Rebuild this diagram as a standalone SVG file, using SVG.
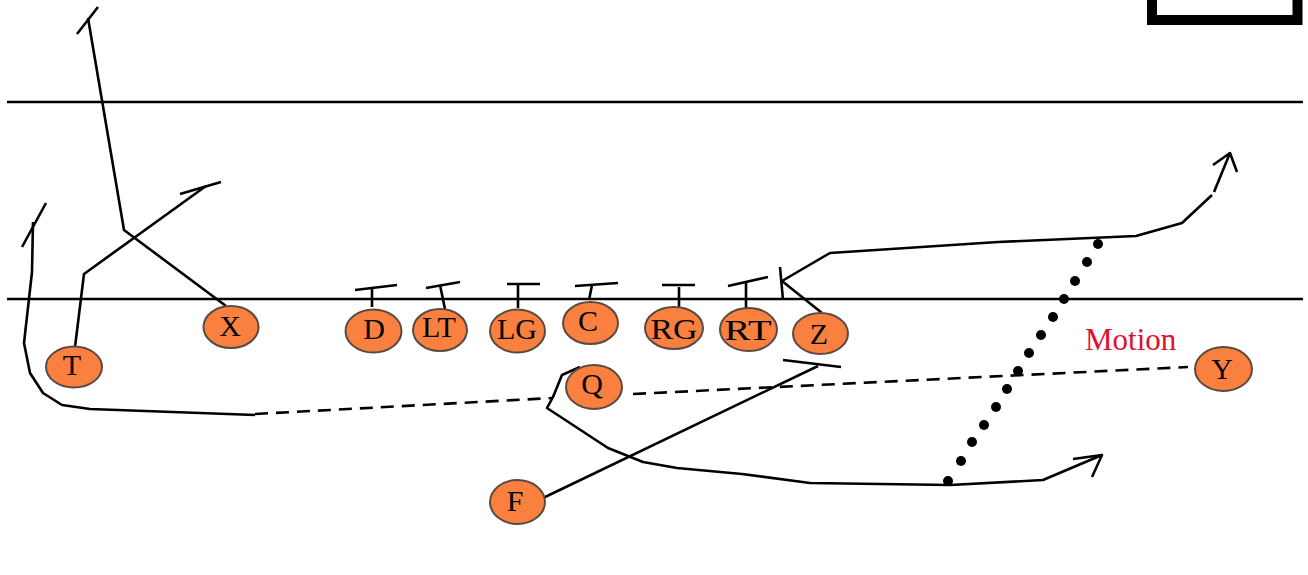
<svg xmlns="http://www.w3.org/2000/svg" width="1308" height="575" viewBox="0 0 1308 575">
<style>
.ln{fill:none;stroke:#000;stroke-width:2.6;stroke-linecap:butt;stroke-linejoin:round}
.dash{stroke-dasharray:13 8}
.node ellipse{fill:#F9803F;stroke:#5a4a42;stroke-width:2}
.node text{font-family:"Liberation Serif","Times New Roman",serif;font-size:30px;fill:#000;text-anchor:middle}
.dot{fill:#000}
.lbl{font-family:"Liberation Serif","Times New Roman",serif;font-size:31px;fill:#E0102F}
</style>
<rect width="1308" height="575" fill="#fff"/>
<g id="field">
<line class="ln" x1="7" y1="102" x2="1303" y2="102"/>
<line class="ln" x1="7" y1="299" x2="1303" y2="299"/>
<rect x="1152" y="-30" width="145.5" height="50" fill="#fff" stroke="#000" stroke-width="10"/>
</g>
<g id="connectors">
<polyline class="ln" points="226,306 124,230 88,18"/>
<line class="ln" x1="77" y1="34" x2="98" y2="7"/>
<polyline class="ln" points="75,347 84,274 206,186"/>
<line class="ln" x1="180" y1="194" x2="221" y2="182"/>
<polyline class="ln" points="255,415 90,409 62,405 43,393 30,373 24,343 32,272 33,222"/>
<line class="ln" x1="22" y1="247" x2="46" y2="203"/>
<line class="ln dash" x1="255" y1="414" x2="553" y2="398"/>
<polyline class="ln" points="580,367 562,375 553,397 547,408 608,448 643,462 677,468 742,474 810,483 950,485 1043,480 1102,455"/>
<polyline class="ln" points="1073,459 1102,455 1092,477"/>
<line class="ln dash" x1="633" y1="394" x2="1188" y2="367"/>
<line class="ln" x1="543" y1="498" x2="818" y2="366"/>
<line class="ln" x1="783" y1="360" x2="841" y2="367"/>
<polyline class="ln" points="822,313 782,281 830,253 998,242 1136,236 1182,223 1212,195"/>
<line class="ln" x1="780" y1="267" x2="783" y2="300"/>
<line class="ln" x1="1214" y1="192" x2="1230" y2="153"/>
<polyline class="ln" points="1213,165 1230,153 1237,172"/>
<line class="ln" x1="372" y1="307" x2="372" y2="288"/>
<line class="ln" x1="355" y1="290" x2="397" y2="285"/>
<line class="ln" x1="445" y1="309" x2="440" y2="285"/>
<line class="ln" x1="426" y1="288" x2="460" y2="282"/>
<line class="ln" x1="518" y1="308" x2="518" y2="284"/>
<line class="ln" x1="507" y1="284" x2="540" y2="284"/>
<line class="ln" x1="589" y1="300" x2="592" y2="285"/>
<line class="ln" x1="575" y1="286" x2="618" y2="283"/>
<line class="ln" x1="679" y1="307" x2="679" y2="287"/>
<line class="ln" x1="662" y1="285" x2="695" y2="285"/>
<line class="ln" x1="746" y1="312" x2="746" y2="282"/>
<line class="ln" x1="728" y1="286" x2="768" y2="277"/>
<g class="dot">
<circle cx="1098" cy="244" r="5"/><circle cx="1087" cy="262" r="5"/><circle cx="1075" cy="281" r="5"/>
<circle cx="1064" cy="299" r="5"/><circle cx="1053" cy="317" r="5"/><circle cx="1041" cy="335" r="5"/>
<circle cx="1029" cy="353" r="5"/><circle cx="1018" cy="371" r="5"/><circle cx="1007" cy="389" r="5"/>
<circle cx="996" cy="407" r="5"/><circle cx="984" cy="425" r="5"/><circle cx="972" cy="442" r="5"/>
<circle cx="961" cy="461" r="5"/><circle cx="948" cy="481" r="5"/>
</g>
</g>
<g id="node-X" class="node"><ellipse cx="231" cy="327" rx="27.5" ry="21"/><text x="230" y="336">X</text></g>
<g id="node-T" class="node"><ellipse cx="74" cy="367" rx="28" ry="20.5"/><text x="72" y="375">T</text></g>
<g id="node-D" class="node"><ellipse cx="373.5" cy="331" rx="28" ry="21.5"/><text x="374" y="339">D</text></g>
<g id="node-LT" class="node"><ellipse cx="440" cy="330" rx="27" ry="21"/><text x="439" y="337">LT</text></g>
<g id="node-LG" class="node"><ellipse cx="517.5" cy="331" rx="27.5" ry="21.5"/><text x="517" y="339">LG</text></g>
<g id="node-C" class="node"><ellipse cx="590.5" cy="323" rx="27.5" ry="21"/><text x="588" y="331">C</text></g>
<g id="node-RG" class="node"><ellipse cx="674" cy="328" rx="29" ry="21"/><text x="674" y="339" textLength="47" lengthAdjust="spacingAndGlyphs">RG</text></g>
<g id="node-RT" class="node"><ellipse cx="748.5" cy="329.5" rx="28.5" ry="21.5"/><text x="748" y="340" textLength="47" lengthAdjust="spacingAndGlyphs">RT</text></g>
<g id="node-Z" class="node"><ellipse cx="820.5" cy="333.5" rx="27.5" ry="20.5"/><text x="819" y="344">Z</text></g>
<g id="node-Q" class="node"><ellipse cx="594" cy="387" rx="28" ry="22"/><text x="592" y="394">Q</text></g>
<g id="node-F" class="node"><ellipse cx="517.5" cy="502" rx="27.5" ry="22"/><text x="515" y="511">F</text></g>
<g id="node-Y" class="node"><ellipse cx="1223.5" cy="369" rx="28.5" ry="22"/><text x="1222" y="379">Y</text></g>
<g id="label-motion"><text class="lbl" x="1085" y="350">Motion</text></g>
</svg>
